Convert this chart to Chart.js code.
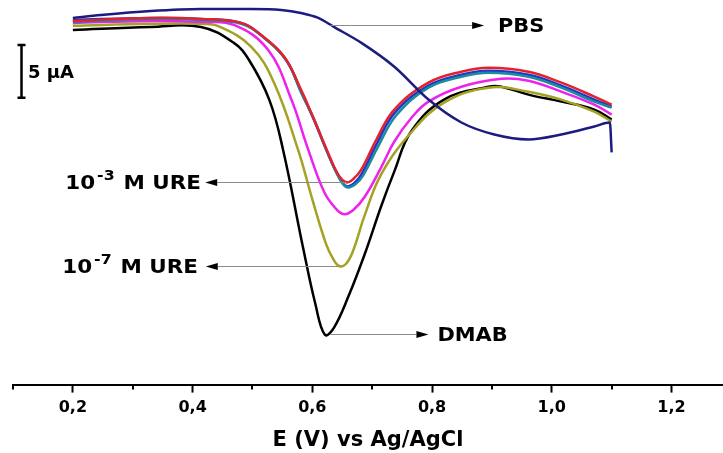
<!DOCTYPE html>
<html>
<head>
<meta charset="utf-8">
<script src="https://cdn.jsdelivr.net/npm/chart.js@4.4.1/dist/chart.umd.min.js"></script>
<style>
  html, body { margin: 0; padding: 0; background: #fff; }
  canvas { display: block; }
</style>
</head>
<body>
<canvas id="myChart" width="723" height="453"></canvas>
<script>
// E in V vs Ag/AgCl, I in uA (5 uA scale bar)
const pbsE = [0.2, 0.247, 0.330, 0.414, 0.498, 0.548, 0.581, 0.610, 0.636, 0.682, 0.737, 0.794, 0.849, 0.904, 0.961, 1.016, 1.071, 1.097, 1.1];
const pbsI = [-1.70, -1.42, -1.04, -0.85, -0.85, -0.94, -1.23, -1.70, -2.55, -4.06, -6.32, -9.43, -11.60, -12.74, -13.21, -12.74, -11.98, -11.60, -14.43];

const redE = [0.2, 0.330, 0.414, 0.481, 0.514, 0.553, 0.581, 0.598, 0.626, 0.643, 0.657, 0.668, 0.682, 0.707, 0.737, 0.794, 0.849, 0.894, 0.961, 1.016, 1.071, 1.1];
const redI = [-1.98, -1.70, -1.79, -2.17, -3.30, -5.38, -8.49, -10.66, -14.43, -16.51, -17.26, -16.98, -16.04, -13.21, -10.38, -7.83, -6.79, -6.42, -6.79, -7.83, -9.15, -9.91];

const blueE = [0.2, 0.330, 0.414, 0.481, 0.518, 0.556, 0.581, 0.601, 0.628, 0.645, 0.657, 0.670, 0.683, 0.708, 0.738, 0.794, 0.849, 0.894, 0.961, 1.016, 1.071, 1.1];
const blueI = [-1.89, -1.70, -1.79, -2.17, -3.49, -5.66, -8.68, -11.13, -14.81, -16.79, -17.64, -17.36, -16.42, -13.58, -10.66, -8.11, -7.08, -6.70, -7.08, -8.11, -9.43, -10.09];

const tealE = [0.2, 0.330, 0.414, 0.481, 0.519, 0.558, 0.583, 0.603, 0.630, 0.646, 0.658, 0.672, 0.685, 0.710, 0.740, 0.794, 0.849, 0.894, 0.961, 1.016, 1.071, 1.1];
const tealI = [-2.08, -1.79, -1.89, -2.26, -3.58, -5.85, -8.96, -11.32, -15.09, -16.98, -17.74, -17.45, -16.60, -13.87, -10.94, -8.30, -7.26, -6.89, -7.26, -8.30, -9.62, -10.19];

const magE = [0.2, 0.330, 0.414, 0.469, 0.526, 0.565, 0.593, 0.620, 0.640, 0.653, 0.668, 0.687, 0.715, 0.737, 0.766, 0.794, 0.849, 0.916, 0.961, 1.016, 1.071, 1.1];
const magI = [-2.17, -1.98, -2.08, -2.36, -4.72, -9.43, -14.15, -18.21, -19.81, -20.28, -19.91, -18.68, -15.85, -13.40, -11.13, -9.62, -8.21, -7.45, -7.64, -8.68, -9.91, -10.85];

const oliveE = [0.2, 0.330, 0.414, 0.442, 0.498, 0.536, 0.576, 0.600, 0.623, 0.635, 0.645, 0.656, 0.668, 0.687, 0.715, 0.765, 0.820, 0.894, 0.961, 1.016, 1.071, 1.1];
const oliveI = [-2.45, -2.26, -2.26, -2.45, -4.43, -7.83, -14.15, -18.87, -23.11, -24.53, -25.19, -25.00, -23.77, -20.47, -16.51, -12.55, -9.72, -8.30, -8.68, -9.43, -10.57, -11.51];

const dmabE = [0.2, 0.330, 0.414, 0.469, 0.494, 0.528, 0.551, 0.585, 0.605, 0.621, 0.636, 0.660, 0.687, 0.715, 0.737, 0.765, 0.820, 0.894, 0.916, 0.961, 1.016, 1.071, 1.1];
const dmabI = [-2.83, -2.55, -2.55, -4.06, -5.66, -9.43, -14.15, -23.58, -28.77, -31.70, -31.04, -28.11, -24.15, -19.53, -16.23, -12.45, -9.43, -8.21, -8.21, -8.96, -9.62, -10.38, -11.32];

const tickValues = [0.1, 0.2, 0.3, 0.4, 0.5, 0.6, 0.7, 0.8, 0.9, 1.0, 1.1, 1.2];
const tickLabels = ['', '0,2', '', '0,4', '', '0,6', '', '0,8', '', '1,0', '', '1,2'];

function pts(es, is) {
  return es.map((e, i) => ({ x: e, y: is[i] }));
}

// first one is drawn on top
const series = [
  { label: 'PBS', E: pbsE, I: pbsI, color: '#1c1c80', mode: 'monotone' },
  { label: 'red', E: redE, I: redI, color: '#e3222c' },
  { label: 'teal', E: tealE, I: tealI, color: '#1b8c9c' },
  { label: 'blue', E: blueE, I: blueI, color: '#2036cc' },
  { label: 'magenta', E: magE, I: magI, color: '#ee22ee' },
  { label: '1e-7 M URE', E: oliveE, I: oliveI, color: '#a3a222' },
  { label: 'DMAB', E: dmabE, I: dmabI, color: '#000000' },
];

// leader lines with arrows
const callouts = [
  { parts: [['PBS', 0]], y: -2.36, from: 0.630, tip: 0.887, textAt: 0.910, dir: 1, sx: 1.1 },
  { parts: [['10', 0], ['-3', 1], [' M URE', 0]], y: -17.26, from: 0.657, tip: 0.421, textAt: 0.414, dir: -1, sx: 1.13 },
  { parts: [['10', 0], ['-7', 1], [' M URE', 0]], y: -25.19, from: 0.645, tip: 0.422, textAt: 0.409, dir: -1, sx: 1.13 },
  { parts: [['DMAB', 0]], y: -31.60, from: 0.630, tip: 0.794, textAt: 0.809, dir: 1, sx: 1.1 },
];
const scaleBar = { x: 0.113, top: -4.25, bottom: -9.25, text: '5 \u03bcA', textAt: 0.125 };

const FONT = '"DejaVu Sans", sans-serif';

const annotate = {
  id: 'annotate',
  afterDatasetsDraw(chart) {
    const { ctx, chartArea } = chart;
    const xs = chart.scales.x;
    const ys = chart.scales.y;
    ctx.save();

    // minor ticks
    ctx.strokeStyle = '#000';
    ctx.lineWidth = 2;
    tickValues.forEach((v, i) => {
      if (tickLabels[i]) return;
      const px = Math.round(xs.getPixelForValue(v));
      ctx.beginPath();
      ctx.moveTo(px, chartArea.bottom);
      ctx.lineTo(px, chartArea.bottom + 5);
      ctx.stroke();
    });

    callouts.forEach((c) => {
      const y = Math.round(ys.getPixelForValue(c.y)) + 0.5;
      const x0 = xs.getPixelForValue(c.from);
      const xt = xs.getPixelForValue(c.tip);
      const head = 12;
      ctx.strokeStyle = '#8a8a8a';
      ctx.lineWidth = 1;
      ctx.beginPath();
      ctx.moveTo(x0, y);
      ctx.lineTo(xt - c.dir * head, y);
      ctx.stroke();
      ctx.fillStyle = '#000';
      ctx.beginPath();
      ctx.moveTo(xt, y);
      ctx.lineTo(xt - c.dir * head, y - 3.5);
      ctx.lineTo(xt - c.dir * head, y + 3.5);
      ctx.closePath();
      ctx.fill();

      // label text, a bit stretched like the original figure
      const fonts = ['bold 19px ' + FONT, 'bold 14px ' + FONT];
      const widths = c.parts.map(([t, s]) => { ctx.font = fonts[s]; return ctx.measureText(t).width + (s ? 3 : 0); });
      const total = widths.reduce((a, b) => a + b, 0) * c.sx;
      let tx = xs.getPixelForValue(c.textAt);
      if (c.dir < 0) tx -= total;
      ctx.textBaseline = 'alphabetic';
      ctx.textAlign = 'left';
      c.parts.forEach(([t, s], i) => {
        ctx.font = fonts[s];
        ctx.save();
        ctx.translate(tx + (s ? 2 : 0), y + 6.5 - (s ? 9 : 0));
        ctx.scale(c.sx, 1);
        ctx.fillText(t, 0, 0);
        ctx.restore();
        tx += widths[i] * c.sx;
      });
    });

    // 5 uA scale bar
    const bx = Math.round(xs.getPixelForValue(scaleBar.x)) + 0.5;
    const bt = ys.getPixelForValue(scaleBar.top);
    const bb = ys.getPixelForValue(scaleBar.bottom);
    ctx.strokeStyle = '#000';
    ctx.lineWidth = 2.5;
    ctx.beginPath();
    ctx.moveTo(bx, bt); ctx.lineTo(bx, bb);
    ctx.moveTo(bx - 4, bt); ctx.lineTo(bx + 4, bt);
    ctx.moveTo(bx - 4, bb); ctx.lineTo(bx + 4, bb);
    ctx.stroke();
    ctx.fillStyle = '#000';
    ctx.font = 'bold 18px ' + FONT;
    ctx.textBaseline = 'alphabetic';
    ctx.fillText(scaleBar.text, xs.getPixelForValue(scaleBar.textAt), (bt + bb) / 2 + 6.5);

    ctx.restore();
  },
};

const data = {
  datasets: series.map((s) => ({
    label: s.label,
    data: pts(s.E, s.I),
    borderColor: s.color,
    backgroundColor: s.color,
    borderWidth: 2.5,
    pointRadius: 0,
    tension: 0.4,
    cubicInterpolationMode: s.mode || 'default',
    fill: false,
  })),
};

const config = {
  type: 'line',
  data,
  options: {
    responsive: false,
    animation: false,
    layout: { padding: { left: 13, right: 0, top: 0, bottom: 0 } },
    plugins: {
      legend: { display: false },
      tooltip: { enabled: false },
    },
    scales: {
      x: {
        type: 'linear',
        min: 0.1,
        max: 1.286,
        afterBuildTicks: (axis) => {
          axis.ticks = tickValues.map((v) => ({ value: v }));
        },
        ticks: {
          autoSkip: false,
          maxRotation: 0,
          padding: 6,
          color: '#000',
          font: { family: FONT, size: 16, weight: 'bold' },
          callback: (value, index) => tickLabels[index],
        },
        grid: {
          drawOnChartArea: false,
          tickLength: 8,
          tickWidth: 2,
          tickColor: (ctx) => (tickLabels[ctx.index] ? '#000' : 'rgba(0,0,0,0)'),
        },
        border: { display: true, color: '#000', width: 2 },
        title: {
          display: true,
          text: 'E (V) vs Ag/AgCl',
          color: '#000',
          font: { family: FONT, size: 21, weight: 'bold' },
          padding: { top: 4, bottom: 0 },
        },
      },
      y: {
        display: false,
        min: -36.42,
        max: 0,
      },
    },
  },
  plugins: [annotate],
};

new Chart(document.getElementById('myChart'), config);
</script>
</body>
</html>
